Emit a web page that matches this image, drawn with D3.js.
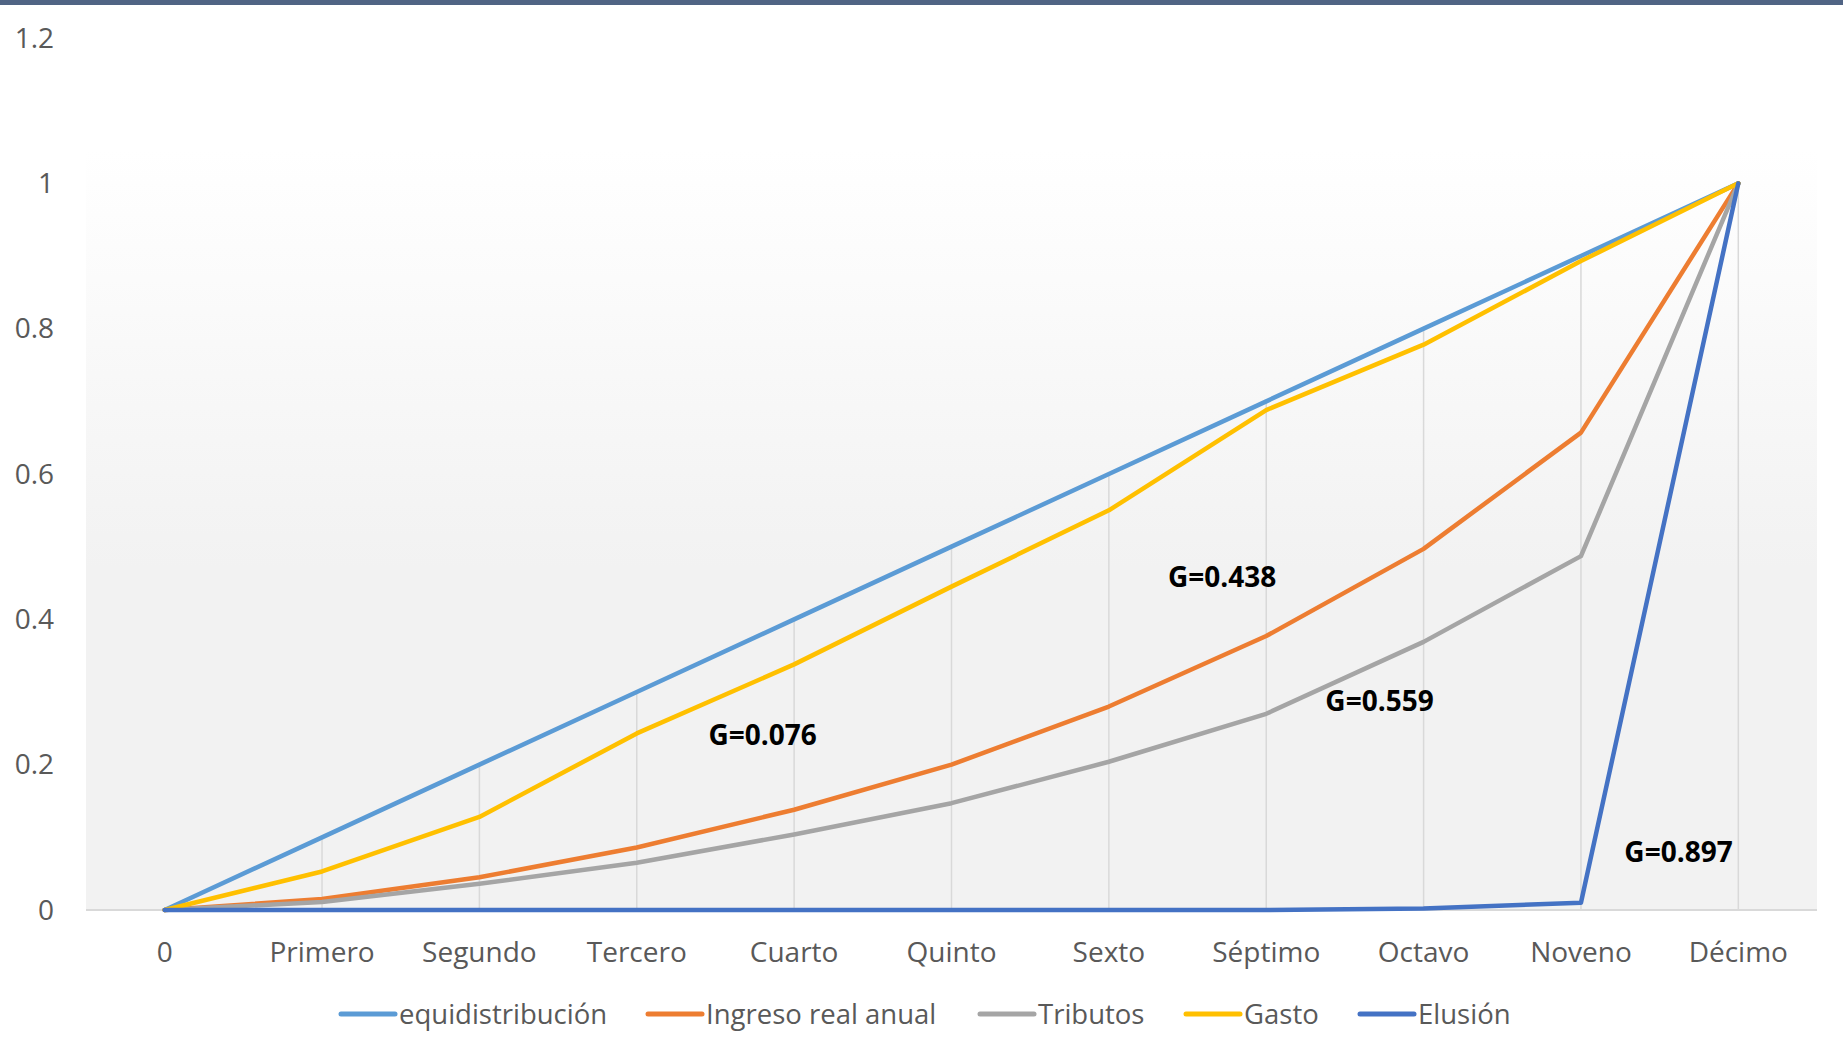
<!DOCTYPE html>
<html>
<head>
<meta charset="utf-8">
<script src="https://cdn.jsdelivr.net/npm/d3@7"></script>
<style>
  body { margin: 0; background: #fff; }
  .tick-label { font-family: "Open Sans", Lato, sans-serif; font-size: 28px; fill: #595959; }
  .legend-text { font-family: "Open Sans", Lato, sans-serif; font-size: 27.5px; fill: #595959; }
  .gini { font-family: "Open Sans", Lato, sans-serif; font-size: 28px; font-weight: bold; fill: #000; }
</style>
</head>
<body>
<script>
// categorías (deciles)
const deciles = ["0", "Primero", "Segundo", "Tercero", "Cuarto", "Quinto", "Sexto", "Séptimo", "Octavo", "Noveno", "Décimo"];

// curvas de Lorenz acumuladas
const equidistribucion = [0, 0.1, 0.2, 0.3, 0.4, 0.5, 0.6, 0.7, 0.8, 0.9, 1];
const ingresoRealAnual = [0, 0.015, 0.045, 0.086, 0.138, 0.2, 0.28, 0.377, 0.497, 0.657, 1];
const tributos = [0, 0.011, 0.036, 0.065, 0.104, 0.147, 0.204, 0.27, 0.369, 0.487, 1];
const gasto = [0, 0.053, 0.128, 0.243, 0.338, 0.445, 0.55, 0.688, 0.778, 0.893, 1];
const elusion = [0, 0, 0, 0, 0, 0, 0, 0, 0.002, 0.01, 1];

const yTicks = [0, 0.2, 0.4, 0.6, 0.8, 1, 1.2];

// coeficientes de Gini: [texto, posición en deciles, valor y]
const giniLabels = [
  ["G=0.076", 3.8, 0.24],
  ["G=0.438", 6.72, 0.458],
  ["G=0.559", 7.72, 0.287],
  ["G=0.897", 9.62, 0.08]
];

const series = [
  { name: "equidistribución", values: equidistribucion, color: "#5b9bd5" },
  { name: "Ingreso real anual", values: ingresoRealAnual, color: "#ed7d31" },
  { name: "Tributos", values: tributos, color: "#a5a5a5" },
  { name: "Gasto", values: gasto, color: "#ffc000" },
  { name: "Elusión", values: elusion, color: "#4472c4" }
];

const width = 1843, height = 1055;
const plotLeft = 86, plotRight = 1817;

const svg = d3.select("body").append("svg")
    .attr("width", width)
    .attr("height", height);

// barra superior
svg.append("rect")
    .attr("x", 0).attr("y", 0)
    .attr("width", width).attr("height", 5)
    .attr("fill", "#506484");

const x = d3.scalePoint()
    .domain(deciles)
    .range([plotLeft, plotRight])
    .padding(0.5);

const y = d3.scaleLinear()
    .domain([0, 1.2])
    .range([910, 38]);

// fondo degradado del área de trazado
const grad = svg.append("defs").append("linearGradient")
    .attr("id", "bg")
    .attr("x1", 0).attr("y1", 0).attr("x2", 0).attr("y2", 1);
grad.append("stop").attr("offset", "0%").attr("stop-color", "#ffffff");
grad.append("stop").attr("offset", "55%").attr("stop-color", "#f2f2f2");
grad.append("stop").attr("offset", "100%").attr("stop-color", "#f2f2f2");

svg.append("rect")
    .attr("x", plotLeft)
    .attr("y", 150)
    .attr("width", plotRight - plotLeft)
    .attr("height", y(0) - 150)
    .attr("fill", "url(#bg)");

// líneas de caída
svg.selectAll(".drop")
    .data(deciles)
    .enter()
    .append("line")
    .attr("x1", d => x(d))
    .attr("x2", d => x(d))
    .attr("y1", (d, i) => y(d3.max(series, s => s.values[i])))
    .attr("y2", y(0))
    .attr("stroke", "#d9d9d9")
    .attr("stroke-width", 1.5);

// eje horizontal
svg.append("line")
    .attr("x1", plotLeft).attr("x2", plotRight)
    .attr("y1", y(0)).attr("y2", y(0))
    .attr("stroke", "#d9d9d9")
    .attr("stroke-width", 2);

// etiquetas eje y
svg.selectAll(".ylab")
    .data(yTicks)
    .enter()
    .append("text")
    .attr("class", "tick-label")
    .attr("x", 54)
    .attr("y", d => y(d))
    .attr("dy", "0.35em")
    .attr("text-anchor", "end")
    .text(d => d3.format("~g")(d));

// etiquetas eje x
svg.selectAll(".xlab")
    .data(deciles)
    .enter()
    .append("text")
    .attr("class", "tick-label")
    .attr("x", d => x(d))
    .attr("y", 952)
    .attr("dy", "0.35em")
    .attr("text-anchor", "middle")
    .text(d => d);

// series
const line = d3.line()
    .x((d, i) => x(deciles[i]))
    .y(d => y(d));

svg.selectAll(".serie")
    .data(series)
    .enter()
    .append("path")
    .attr("d", d => line(d.values))
    .attr("fill", "none")
    .attr("stroke", d => d.color)
    .attr("stroke-width", 4.5)
    .attr("stroke-linejoin", "round")
    .attr("stroke-linecap", "round");

// textos Gini
svg.selectAll(".gini")
    .data(giniLabels)
    .enter()
    .append("text")
    .attr("class", "gini")
    .attr("x", d => plotLeft + (x.step() * (0.5 + d[1])))
    .attr("y", d => y(d[2]))
    .attr("dy", "0.35em")
    .attr("text-anchor", "middle")
    .text(d => d[0]);

// leyenda
const legendX = [341, 648, 980, 1186, 1360];
const legend = svg.selectAll(".legend")
    .data(series)
    .enter()
    .append("g")
    .attr("transform", (d, i) => `translate(${legendX[i]}, 1014)`);

legend.append("line")
    .attr("x1", 0).attr("x2", 54)
    .attr("y1", 0).attr("y2", 0)
    .attr("stroke", d => d.color)
    .attr("stroke-width", 5)
    .attr("stroke-linecap", "round");

legend.append("text")
    .attr("class", "legend-text")
    .attr("x", 58)
    .attr("y", 0)
    .attr("dy", "0.35em")
    .text(d => d.name);
</script>
</body>
</html>
